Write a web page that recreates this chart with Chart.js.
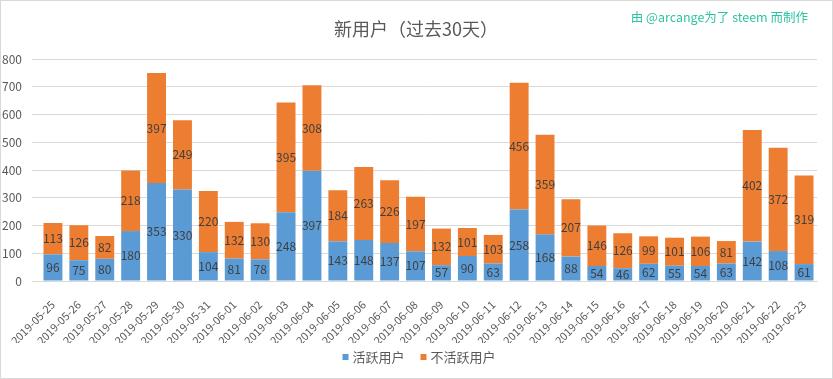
<!DOCTYPE html>
<html><head><meta charset="utf-8">
<script src="https://cdn.jsdelivr.net/npm/chart.js@4/dist/chart.umd.min.js"></script>
<style>html,body{margin:0;padding:0;background:#fff;overflow:hidden}#wrap{width:833px;height:379px;position:relative}</style>
</head><body><div id="wrap"><canvas id="c" width="833" height="379"></canvas></div>
<script>
const categories = ['2019-05-25','2019-05-26','2019-05-27','2019-05-28','2019-05-29','2019-05-30','2019-05-31','2019-06-01','2019-06-02','2019-06-03','2019-06-04','2019-06-05','2019-06-06','2019-06-07','2019-06-08','2019-06-09','2019-06-10','2019-06-11','2019-06-12','2019-06-13','2019-06-14','2019-06-15','2019-06-16','2019-06-17','2019-06-18','2019-06-19','2019-06-20','2019-06-21','2019-06-22','2019-06-23'];
const activeUsers = [96,75,80,180,353,330,104,81,78,248,397,143,148,137,107,57,90,63,258,168,88,54,46,62,55,54,63,142,108,61];
const inactiveUsers = [113,126,82,218,397,249,220,132,130,395,308,184,263,226,197,132,101,103,456,359,207,146,126,99,101,106,81,402,372,319];
const seriesNames = ['活跃用户','不活跃用户'];
const seriesColors = ['#5b9bd5','#ed7d31'];
const yMin = 0, yMax = 800, yStep = 100;
const titleText = '新用户（过去30天）';
const creditText = '由 @arcange为了 steem 而制作';

const FONT = "'Noto Sans CJK SC', 'Noto Sans', sans-serif";

const valueLabels = {
  id: 'valueLabels',
  afterDatasetsDraw(chart) {
    const ctx = chart.ctx;
    ctx.save();
    ctx.font = '12px ' + FONT;
    ctx.fillStyle = '#404040';
    ctx.textAlign = 'center';
    ctx.textBaseline = 'middle';
    chart.data.datasets.forEach((ds, i) => {
      const meta = chart.getDatasetMeta(i);
      meta.data.forEach((el, j) => {
        ctx.fillText(String(ds.data[j]), el.x, (el.y + el.base) / 2);
      });
    });
    ctx.restore();
  }
};
const decor = {
  id: 'decor',
  afterDraw(chart) {
    const ctx = chart.ctx;
    ctx.save();
    // title
    ctx.font = '18px ' + FONT;
    ctx.fillStyle = '#595959';
    ctx.textAlign = 'center';
    ctx.textBaseline = 'middle';
    ctx.fillText(titleText, 416, 29);
    // credit
    ctx.font = '12.5px ' + FONT;
    ctx.fillStyle = '#2fc3a3';
    ctx.textAlign = 'right';
    ctx.fillText(creditText, 808, 17);
    // legend
    ctx.font = '13px ' + FONT;
    ctx.textAlign = 'left';
    const ly = 357;
    const gap = 16;
    const widths = chart.data.datasets.map(ds => 6 + 4 + ctx.measureText(ds.label).width);
    const total = widths.reduce((a, b) => a + b, 0) + gap * (widths.length - 1);
    let x = 419 - total / 2;
    chart.data.datasets.forEach((ds, i) => {
      ctx.fillStyle = ds.backgroundColor;
      ctx.fillRect(x, ly - 3, 6, 6);
      ctx.fillStyle = '#595959';
      ctx.fillText(ds.label, x + 10, ly);
      x += widths[i] + gap;
    });
    // border
    ctx.strokeStyle = '#d9d9d9';
    ctx.lineWidth = 1;
    ctx.strokeRect(0.5, 0.5, chart.width - 1, chart.height - 1);
    ctx.restore();
  }
};

new Chart(document.getElementById('c'), {
  type: 'bar',
  data: {
    labels: categories,
    datasets: [
      { label: seriesNames[0], data: activeUsers, backgroundColor: seriesColors[0], barPercentage: 0.73, categoryPercentage: 1 },
      { label: seriesNames[1], data: inactiveUsers, backgroundColor: seriesColors[1], barPercentage: 0.73, categoryPercentage: 1 }
    ]
  },
  options: {
    responsive: false,
    devicePixelRatio: 1,
    animation: false,
    layout: { padding: { left: 0, right: 16, top: 59, bottom: 36 } },
    plugins: {
      title: { display: false },
      legend: { display: false },
      tooltip: { enabled: false }
    },
    scales: {
      x: {
        stacked: true,
        grid: { display: false },
        border: { color: '#d9d9d9' },
        ticks: { color: '#595959', font: { family: FONT, size: 11 }, minRotation: 45, maxRotation: 45, autoSkip: false, padding: 9 },
        afterFit(s) { s.height = 62; }
      },
      y: {
        stacked: true,
        min: yMin, max: yMax,
        grid: { color: '#d9d9d9' },
        border: { display: false },
        ticks: { stepSize: yStep, color: '#595959', font: { family: FONT, size: 12 }, padding: 10 },
        afterFit(s) { s.width = 40; }
      }
    }
  },
  plugins: [valueLabels, decor]
});
</script></body></html>
